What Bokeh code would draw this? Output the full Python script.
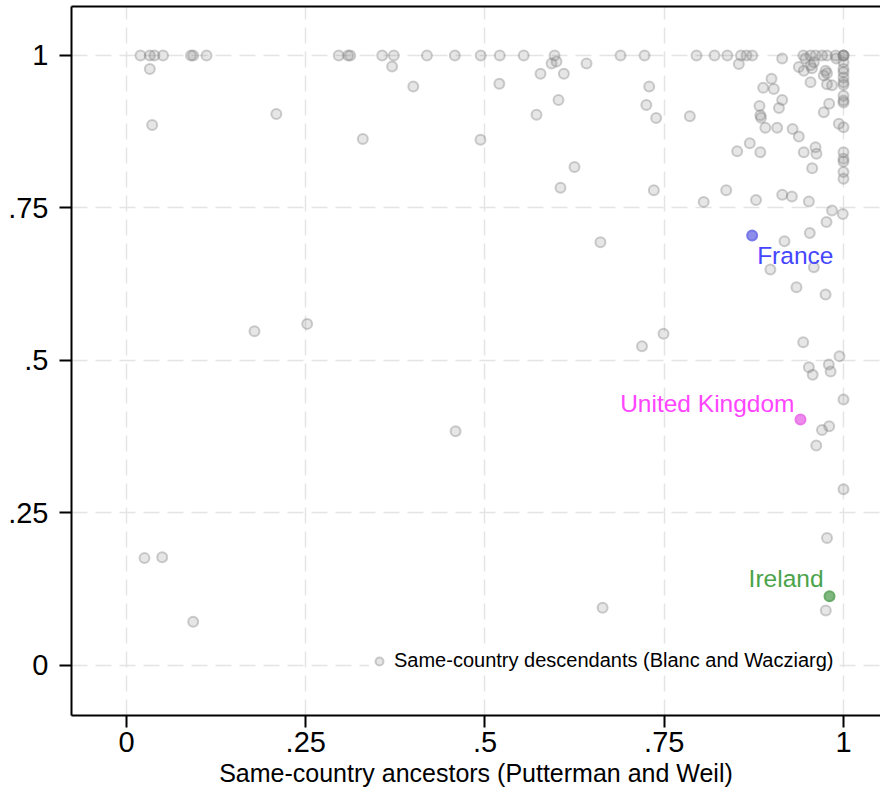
from bokeh.plotting import figure
from bokeh.models import Range1d, FixedTicker, LinearAxis, ColumnDataSource, Legend, LegendItem
from bokeh.embed import file_html
from bokeh.resources import INLINE

# ---- data ----
tick_values = [0, 0.25, 0.5, 0.75, 1]
tick_labels = ["0", ".25", ".5", ".75", "1"]

# points lying on y = 1
top_row_x = [0.0195, 0.0325, 0.039, 0.051, 0.090, 0.093, 0.1116, 0.296, 0.309, 0.312,
             0.3566, 0.3728, 0.419, 0.458, 0.494, 0.5206, 0.554, 0.597, 0.689, 0.7225,
             0.795, 0.8201, 0.838, 0.857, 0.8647, 0.8727, 0.944, 0.954, 0.961, 0.970,
             0.977, 0.989, 1.0, 1.0, 1.0]

# points lying on x = 1
edge_col_y = [0.989, 0.978, 0.9725, 0.964, 0.956, 0.952, 0.934, 0.926, 0.923, 0.8825,
              0.8415, 0.8306, 0.826, 0.809, 0.798, 0.436, 0.289]

# all other points
other_x = [0.9145, 0.947, 0.99, 0.5928, 0.5997, 0.6416, 0.3705, 0.0325, 0.854, 0.9587,
           0.954, 0.9377, 0.9447, 0.956, 0.975, 0.977, 0.9725,
           0.0358, 0.209, 0.40, 0.3296, 0.4937, 0.5774, 0.610, 0.520, 0.729, 0.6025,
           0.725, 0.5718, 0.7387, 0.7857, 0.6248, 0.6053, 0.7355, 0.8364, 0.805, 0.878,
           0.9145, 0.928, 0.9517, 0.8996, 0.888, 0.9028, 0.954, 0.977, 0.984, 0.9145,
           0.910, 0.8828, 0.884, 0.885, 0.891, 0.9075, 0.929, 0.9377, 0.980, 0.9725,
           0.9935, 0.8693, 0.8517, 0.884, 0.9446, 0.961, 0.9623, 0.9563, 0.984, 0.9763,
           0.953, 0.9177, 0.661, 0.898, 0.9587, 0.9344, 0.975, 0.9438, 0.9944, 0.749,
           0.719, 0.9517, 0.957, 0.9795, 0.982, 0.970, 0.980, 0.962, 0.977, 0.9753,
           0.664, 0.0251, 0.0498, 0.093, 0.1785, 0.252, 0.459, 0.999]
other_y = [0.995, 0.995, 0.995, 0.987, 0.99, 0.987, 0.982, 0.978, 0.986, 0.989,
           0.984, 0.981, 0.975, 0.979, 0.975, 0.971, 0.967,
           0.886, 0.904, 0.949, 0.863, 0.862, 0.970, 0.970, 0.9535, 0.949, 0.927,
           0.919, 0.903, 0.8977, 0.9005, 0.817, 0.783, 0.779, 0.779, 0.760, 0.763,
           0.7715, 0.769, 0.7606, 0.9617, 0.947, 0.945, 0.956, 0.953, 0.951, 0.927,
           0.914, 0.917, 0.902, 0.898, 0.8815, 0.8815, 0.8795, 0.867, 0.921, 0.907,
           0.888, 0.856, 0.843, 0.8415, 0.8415, 0.8497, 0.8388, 0.8153, 0.746, 0.727,
           0.709, 0.6956, 0.694, 0.649, 0.653, 0.620, 0.608, 0.530, 0.507, 0.5437,
           0.5234, 0.489, 0.4766, 0.4934, 0.482, 0.386, 0.392, 0.3607, 0.209, 0.0902,
           0.0946, 0.176, 0.1776, 0.0716, 0.548, 0.560, 0.384, 0.740]

countries = ["France", "United Kingdom", "Ireland"]
country_x = [0.8726, 0.940, 0.9805]
country_y = [0.705, 0.4033, 0.1136]

# ---- styles ----
FONT = "Liberation Sans"
country_point_colors = ["#6f6fe6", "#e86ee8", "#5fa65f"]
country_text_colors = ["#4646ff", "#ff45ff", "#4aa34a"]
label_align = ["left", "right", "right"]
label_dx = [5, -6, -6]
label_dy = [20, -16, -18]

gx = top_row_x + [1.0] * len(edge_col_y) + other_x
gy = [1.0] * len(top_row_x) + edge_col_y + other_y

p = figure(width=880, height=790, output_backend="svg", toolbar_location=None,
           x_range=Range1d(-0.0767, 1.0516), y_range=Range1d(-0.082, 1.0803),
           min_border_left=71, min_border_right=0, min_border_top=6, min_border_bottom=75)
p.outline_line_color = None
p.background_fill_color = "white"
p.border_fill_color = "white"

for ax in (p.xaxis[0], p.yaxis[0]):
    ax.ticker = FixedTicker(ticks=tick_values)
    ax.major_label_overrides = {v: l for v, l in zip(tick_values, tick_labels)}
    ax.minor_tick_line_color = None
    ax.major_tick_in = 0
    ax.axis_line_width = 2
    ax.major_tick_line_width = 2
    ax.axis_line_color = "black"
    ax.major_tick_line_color = "black"
    ax.major_label_text_font = FONT
    ax.major_label_text_font_size = "29px"
    ax.major_label_text_color = "black"

p.xaxis.major_tick_out = 12
p.xaxis.major_label_standoff = 4
p.yaxis.major_tick_out = 12
p.yaxis.major_label_standoff = 11
p.yaxis.major_label_orientation = "horizontal"

p.xaxis.axis_label = "Same-country ancestors (Putterman and Weil)"
p.xaxis.axis_label_text_font = FONT
p.xaxis.axis_label_text_font_size = "25px"
p.xaxis.axis_label_text_font_style = "normal"
p.xaxis.axis_label_text_color = "black"
p.xaxis.axis_label_standoff = 4

top_axis = LinearAxis(ticker=FixedTicker(ticks=[]), major_tick_out=0, major_tick_in=0,
                      minor_tick_out=0, minor_tick_in=0, major_label_standoff=0,
                      major_label_text_font_size="0px", axis_line_width=2,
                      axis_line_color="black")
p.add_layout(top_axis, "above")

for g in (p.xgrid[0], p.ygrid[0]):
    g.ticker = FixedTicker(ticks=tick_values)
    g.grid_line_color = "#e4e4e4"
    g.grid_line_width = 1.5
    g.grid_line_dash = "16 8"

gsrc = ColumnDataSource(data=dict(x=gx, y=gy))
gr = p.scatter("x", "y", source=gsrc, size=10, fill_color="#808080", fill_alpha=0.2,
               line_color="#808080", line_alpha=0.38, line_width=2)

csrc = ColumnDataSource(data=dict(x=country_x, y=country_y, name=countries,
                                  pc=country_point_colors, tc=country_text_colors,
                                  align=label_align, dx=label_dx, dy=label_dy))
p.scatter("x", "y", source=csrc, size=10, fill_color="pc", fill_alpha=0.8,
          line_color="pc", line_alpha=0.9, line_width=2)
p.text("x", "y", text="name", source=csrc, text_color="tc", text_align="align",
       text_baseline="middle", x_offset="dx", y_offset="dy",
       text_font={"value": FONT}, text_font_size="24.5px")

legend = Legend(items=[LegendItem(label="Same-country descendants (Blanc and Wacziarg)",
                                  renderers=[gr])],
                location=(298, 43), border_line_color=None, background_fill_color="white",
                background_fill_alpha=1.0, label_text_font=FONT, label_text_font_size="20px",
                label_text_color="black", glyph_width=20, glyph_height=20, padding=10,
                margin=0, label_standoff=5)
p.add_layout(legend, "center")

open("out.html", "w").write(file_html(p, INLINE))
